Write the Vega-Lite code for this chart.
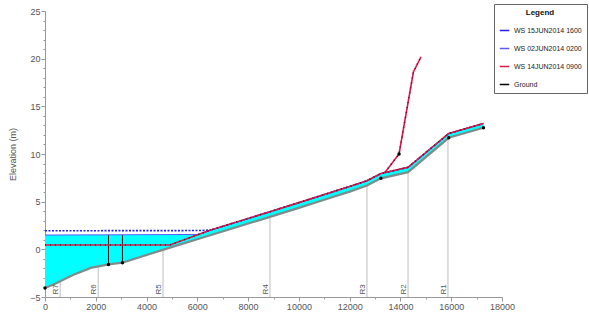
{
  "$schema": "https://vega.github.io/schema/vega-lite/v6.json",
  "width": 457,
  "height": 286,
  "autosize": {"type": "none"},
  "padding": {"left": 45, "top": 11, "right": 87, "bottom": 17},
  "background": "white",
  "config": {
    "view": {"stroke": null},
    "font": "Liberation Sans",
    "axis": {"domainColor": "#999", "tickColor": "#999", "labelColor": "#555", "labelFontSize": 9, "titleColor": "#555", "titleFontSize": 9, "titleFontWeight": "normal", "grid": false, "labelOverlap": false, "labelFlush": false},
    "legend": {"orient": "none", "legendX": 449, "legendY": -7, "symbolType": "stroke", "symbolStrokeWidth": 1.5, "symbolSize": 90, "labelFontSize": 7, "labelLimit": 200, "labelColor": "#222", "titleFontSize": 8, "titleFontWeight": "bold", "titleColor": "#111", "titleAnchor": "middle", "titlePadding": 8, "padding": 5, "strokeColor": "#666", "fillColor": "white", "rowPadding": 9}
  },
  "datasets": {
    "ground": [
      {"x": 0, "y": -4.05}, {"x": 400, "y": -3.6}, {"x": 1100, "y": -2.7}, {"x": 1800, "y": -1.95},
      {"x": 2500, "y": -1.58}, {"x": 3050, "y": -1.4}, {"x": 4700, "y": 0.0}, {"x": 6000, "y": 1.06},
      {"x": 8860, "y": 3.4}, {"x": 10000, "y": 4.35}, {"x": 11000, "y": 5.2}, {"x": 12000, "y": 6.05},
      {"x": 12680, "y": 6.7}, {"x": 13230, "y": 7.45}, {"x": 14300, "y": 8.1}, {"x": 15900, "y": 11.7},
      {"x": 17270, "y": 12.75}
    ],
    "fill": [
      {"x": 0, "y": 1.5, "b": -4.05}, {"x": 400, "y": 1.5, "b": -3.6}, {"x": 1100, "y": 1.5, "b": -2.7},
      {"x": 1800, "y": 1.5, "b": -1.95}, {"x": 2500, "y": 1.5, "b": -1.58}, {"x": 3050, "y": 1.5, "b": -1.4},
      {"x": 4700, "y": 1.5, "b": 0.0}, {"x": 6000, "y": 1.56, "b": 1.06}, {"x": 8860, "y": 3.95, "b": 3.4},
      {"x": 10000, "y": 4.9, "b": 4.35}, {"x": 11000, "y": 5.75, "b": 5.2}, {"x": 12000, "y": 6.6, "b": 6.05},
      {"x": 12680, "y": 7.2, "b": 6.7}, {"x": 13230, "y": 7.95, "b": 7.45}, {"x": 14300, "y": 8.6, "b": 8.1},
      {"x": 15900, "y": 12.15, "b": 11.7}, {"x": 17270, "y": 13.2, "b": 12.75}
    ],
    "ws": [
      {"s": "WS 15JUN2014 1600", "p": "main", "x": 0, "y": 1.95},
      {"s": "WS 15JUN2014 1600", "p": "main", "x": 6200, "y": 1.97},
      {"s": "WS 15JUN2014 1600", "p": "main", "x": 6550, "y": 2.05},
      {"s": "WS 15JUN2014 1600", "p": "main", "x": 8860, "y": 3.95},
      {"s": "WS 15JUN2014 1600", "p": "main", "x": 10000, "y": 4.9},
      {"s": "WS 15JUN2014 1600", "p": "main", "x": 11000, "y": 5.75},
      {"s": "WS 15JUN2014 1600", "p": "main", "x": 12000, "y": 6.6},
      {"s": "WS 15JUN2014 1600", "p": "main", "x": 12680, "y": 7.2},
      {"s": "WS 15JUN2014 1600", "p": "main", "x": 13230, "y": 7.95},
      {"s": "WS 15JUN2014 1600", "p": "main", "x": 14300, "y": 8.6},
      {"s": "WS 15JUN2014 1600", "p": "main", "x": 15900, "y": 12.15},
      {"s": "WS 15JUN2014 1600", "p": "main", "x": 17270, "y": 13.2},
      {"s": "WS 02JUN2014 0200", "p": "main", "x": 0, "y": 1.5},
      {"s": "WS 02JUN2014 0200", "p": "main", "x": 6000, "y": 1.56},
      {"s": "WS 02JUN2014 0200", "p": "main", "x": 8860, "y": 3.95},
      {"s": "WS 02JUN2014 0200", "p": "main", "x": 10000, "y": 4.9},
      {"s": "WS 02JUN2014 0200", "p": "main", "x": 11000, "y": 5.75},
      {"s": "WS 02JUN2014 0200", "p": "main", "x": 12000, "y": 6.6},
      {"s": "WS 02JUN2014 0200", "p": "main", "x": 12680, "y": 7.2},
      {"s": "WS 02JUN2014 0200", "p": "main", "x": 13230, "y": 7.95},
      {"s": "WS 02JUN2014 0200", "p": "main", "x": 14300, "y": 8.6},
      {"s": "WS 02JUN2014 0200", "p": "main", "x": 15900, "y": 12.15},
      {"s": "WS 02JUN2014 0200", "p": "main", "x": 17270, "y": 13.2},
      {"s": "WS 14JUN2014 0900", "p": "main", "x": 0, "y": 0.45},
      {"s": "WS 14JUN2014 0900", "p": "main", "x": 4920, "y": 0.45},
      {"s": "WS 14JUN2014 0900", "p": "main", "x": 6500, "y": 2.0},
      {"s": "WS 14JUN2014 0900", "p": "main", "x": 8860, "y": 3.95},
      {"s": "WS 14JUN2014 0900", "p": "main", "x": 10000, "y": 4.9},
      {"s": "WS 14JUN2014 0900", "p": "main", "x": 11000, "y": 5.75},
      {"s": "WS 14JUN2014 0900", "p": "main", "x": 12000, "y": 6.6},
      {"s": "WS 14JUN2014 0900", "p": "main", "x": 12680, "y": 7.2},
      {"s": "WS 14JUN2014 0900", "p": "main", "x": 13230, "y": 7.95},
      {"s": "WS 14JUN2014 0900", "p": "main", "x": 14300, "y": 8.6},
      {"s": "WS 14JUN2014 0900", "p": "main", "x": 15900, "y": 12.15},
      {"s": "WS 14JUN2014 0900", "p": "main", "x": 17270, "y": 13.2},
      {"s": "WS 14JUN2014 0900", "p": "branch", "x": 13390, "y": 8.05},
      {"s": "WS 14JUN2014 0900", "p": "branch", "x": 13945, "y": 10.0},
      {"s": "WS 14JUN2014 0900", "p": "branch", "x": 14510, "y": 18.6},
      {"s": "WS 14JUN2014 0900", "p": "branch", "x": 14810, "y": 20.2}
    ],
    "dots": [
      {"s": "Ground", "x": 0, "y": -4.05}, {"s": "Ground", "x": 2500, "y": -1.58},
      {"s": "Ground", "x": 3050, "y": -1.4}, {"s": "Ground", "x": 13230, "y": 7.45},
      {"s": "Ground", "x": 13945, "y": 10.0},
      {"s": "Ground", "x": 15900, "y": 11.7}, {"s": "Ground", "x": 17270, "y": 12.75}
    ],
    "stations": [
      {"n": "R7", "x": 600, "g": -3.4}, {"n": "R6", "x": 2100, "g": -1.8},
      {"n": "R5", "x": 4650, "g": -0.05}, {"n": "R4", "x": 8860, "g": 3.4},
      {"n": "R3", "x": 12680, "g": 6.7}, {"n": "R2", "x": 14300, "g": 8.1},
      {"n": "R1", "x": 15870, "g": 11.7}
    ],
    "piers": [{"x": 2500, "y": -1.58}, {"x": 3050, "y": -1.4}]
  },
  "resolve": {"axis": {"y": "independent", "x": "independent"}},
  "layer": [
    {
      "data": {"name": "stations"},
      "mark": {"type": "rule", "color": "#d4d4d4", "strokeWidth": 1.5},
      "encoding": {
        "x": {"field": "x", "type": "quantitative", "axis": null},
        "y": {"field": "g", "type": "quantitative", "axis": null},
        "y2": {"datum": -5}
      }
    },
    {
      "encoding": {
        "x": {
          "field": "x", "type": "quantitative",
          "scale": {"domain": [0, 18000], "nice": false},
          "axis": {
            "title": null,
            "values": [0,1000,2000,3000,4000,5000,6000,7000,8000,9000,10000,11000,12000,13000,14000,15000,16000,17000,18000],
            "format": "d",
            "labelOverlap": false,
            "labelExpr": "datum.value % 2000 === 0 ? datum.label : ''",
            "tickSize": {"condition": {"test": "datum.value % 2000 === 0", "value": 4}, "value": 2},
            "labelPadding": 1
          }
        },
        "y": {
          "field": "y", "type": "quantitative",
          "scale": {"domain": [-5, 25], "nice": false, "zero": false},
          "axis": {
            "title": "Elevation (m)",
            "values": [-5,-4,-3,-2,-1,0,1,2,3,4,5,6,7,8,9,10,11,12,13,14,15,16,17,18,19,20,21,22,23,24,25],
            "labelOverlap": false,
            "labelExpr": "datum.value % 5 === 0 ? datum.label : ''",
            "tickSize": {"condition": {"test": "datum.value % 5 === 0", "value": 4}, "value": 2},
            "labelPadding": 1,
            "titlePadding": 12
          }
        }
      },
      "layer": [
        {
          "data": {"name": "fill"},
          "mark": {"type": "area", "color": "#00ffff", "opacity": 1},
          "encoding": {"y2": {"field": "b"}}
        },
        {
          "data": {"name": "ground"},
          "mark": {"type": "line", "color": "#7f8c8c", "strokeWidth": 2.2}
        },
        {
          "data": {"name": "piers"},
          "mark": {"type": "rule", "color": "#111", "strokeWidth": 1},
          "encoding": {"y2": {"datum": 1.5}}
        },
        {
          "data": {"name": "ws"},
          "transform": [{"filter": "datum.s === 'WS 15JUN2014 1600'"}],
          "mark": {"type": "line", "strokeWidth": 1.6, "strokeDash": [2, 1.5]},
          "encoding": {
            "color": {"field": "s", "type": "nominal", "title": "Legend",
              "scale": {"domain": ["WS 15JUN2014 1600", "WS 02JUN2014 0200", "WS 14JUN2014 0900", "Ground"], "range": ["#2020f0", "#5a5aff", "#d81a4a", "#000000"]}},
            "detail": {"field": "p"}
          }
        },
        {
          "data": {"name": "ws"},
          "transform": [{"filter": "datum.s === 'WS 02JUN2014 0200'"}],
          "mark": {"type": "line", "strokeWidth": 1},
          "encoding": {"color": {"field": "s", "type": "nominal"}, "detail": {"field": "p"}}
        },
        {
          "data": {"name": "ws"},
          "transform": [{"filter": "datum.s === 'WS 14JUN2014 0900'"}],
          "mark": {"type": "line", "strokeWidth": 1.6},
          "encoding": {"color": {"field": "s", "type": "nominal"}, "detail": {"field": "p"}}
        },
        {
          "data": {"name": "ws"},
          "transform": [{"filter": "datum.s === 'WS 14JUN2014 0900'"}],
          "mark": {"type": "line", "strokeWidth": 1.6, "color": "#3a1020", "strokeDash": [1, 4], "opacity": 0.8},
          "encoding": {"detail": {"field": "p"}}
        },
        {
          "data": {"name": "dots"},
          "mark": {"type": "point", "filled": true, "size": 12, "opacity": 1},
          "encoding": {"color": {"field": "s", "type": "nominal"}}
        }
      ]
    },
    {
      "data": {"name": "stations"},
      "mark": {"type": "text", "angle": 270, "align": "left", "baseline": "bottom", "fontSize": 8, "color": "#555"},
      "encoding": {
        "x": {"field": "x", "type": "quantitative", "axis": null},
        "y": {"datum": -4.75, "axis": null},
        "text": {"field": "n"}
      }
    }
  ]
}
